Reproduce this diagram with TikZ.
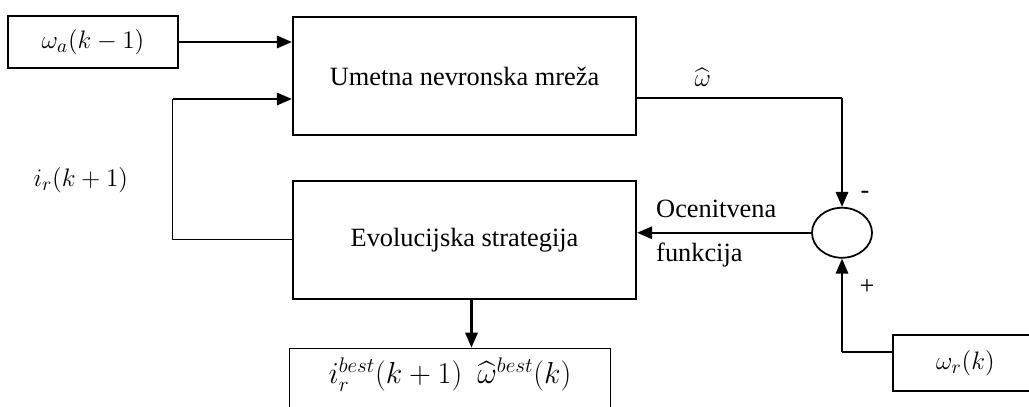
\documentclass[tikz,border=0pt]{standalone}
\usepackage{amsmath}
\usepackage{fontspec}
\setmainfont{Liberation Serif}
\usepackage{tikz}
\usetikzlibrary{shapes.geometric, arrows.meta, positioning}

\begin{document}
\begin{tikzpicture}[font=\fontsize{15}{18}\selectfont,
            node distance=1cm,
            block/.style={draw, rectangle, line width=1pt, minimum width=6.87cm, minimum height=2.36cm, text centered},
            inbox/.style={draw, rectangle, line width=1pt, minimum height=1cm, text centered},
            summer/.style={draw, ellipse, line width=1pt, minimum width=1.2cm, minimum height=1cm, inner sep=0pt},
            mathtext/.style={font=\fontsize{15}{18}\selectfont},
            arrow/.style={line width=1.2pt, -{Triangle[length=8.5pt, width=7pt]}},
            wire/.style={line width=0.6pt}]

            \useasboundingbox (0,0) rectangle (20.58,-8.14);

            % Blocks
            \node (nn) [block] at (9.29,-1.52) {Umetna nevronska mreža};
            \node (es) [block, below=0.88cm of nn] {Evolucijska strategija};
            \node (wa) [inbox, mathtext, minimum width=3.4cm, minimum height=1.04cm, left=2.26cm of nn, yshift=0.68cm] {$\omega_a(k-1)$};
            \node (best) [inbox, font=\fontsize{17}{20}\selectfont, minimum width=6.42cm, minimum height=1.4cm, text depth=0.5cm, below=0.96cm of es, xshift=-0.29cm] {$i_r^{best}(k+1)\enspace\widehat{\omega}^{best}(k)$};

            % Summing point and reference
            \node (sum) [summer, right=3.48cm of es, yshift=0.14cm] {};
            \node (wr) [inbox, mathtext, minimum width=2.9cm, minimum height=1.12cm, anchor=west] at (17.84,-7.26) {$\omega_r(k)$};
            \node (minus) at ([xshift=0.46cm, yshift=0.23cm]sum.north) {-};
            \node (plus) at ([xshift=0.5cm, yshift=-0.57cm]sum.south) {+};

            % Connections
            \draw [arrow] (wa.east) -- (wa.east -| nn.west);

            \coordinate (fb) at ([xshift=-2.38cm, yshift=-0.46cm]nn.west);
            \draw [wire] (es.west) -| (fb);
            \draw [arrow] (fb) -- ([yshift=-0.46cm]nn.west);
            \node (ir) [mathtext] at ([xshift=-1.84cm, yshift=-1.62cm]fb) {$i_r(k+1)$};

            \coordinate (nnout) at ([yshift=-0.44cm]nn.east);
            \coordinate (wh) at (nnout -| sum.north);
            \draw [wire] (nnout) -- node[pos=0.32, above=3pt, mathtext] {$\widehat{\omega}$} (wh);
            \draw [arrow] (wh) -- (sum.north);

            \draw [arrow] (sum.west) -- node[pos=0.93, anchor=west, yshift=0.48cm] {Ocenitvena}
                node[pos=0.93, anchor=west, yshift=-0.44cm] {funkcija} (sum.west -| es.east);

            \coordinate (wrin) at ([yshift=0.22cm]wr.west -| sum.south);
            \draw [wire] ([yshift=0.22cm]wr.west) -- (wrin);
            \draw [arrow] (wrin) -- (sum.south);

            \draw [arrow] ([xshift=0.14cm]es.south) -- ([xshift=0.14cm]es.south |- best.north);
        \end{tikzpicture}
\end{document}
